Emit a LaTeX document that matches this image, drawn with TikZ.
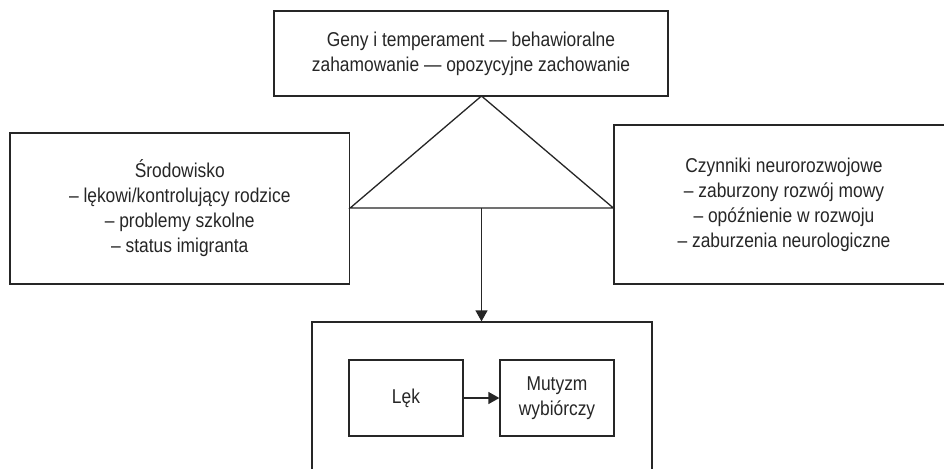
\documentclass[tikz,border=0pt]{standalone}
\usepackage{fontspec}
\setmainfont{Liberation Sans}[FakeStretch=0.87]
\usetikzlibrary{arrows.meta}
\definecolor{ink}{HTML}{262626}
\tikzset{
  box/.style={draw=ink, line width=1.3pt, align=center, inner sep=0pt, text=ink,
    font=\fontsize{20}{25}\selectfont},
  arr/.style={draw=ink, line width=1.3pt, -{Triangle[length=11pt,width=12pt]}},
  tri/.style={draw=ink, line width=1.3pt, line join=miter}
}
\begin{document}
\begin{tikzpicture}[x=1pt,y=-1pt]
\useasboundingbox (0,0) rectangle (944,468);
\clip (0,0) rectangle (944,468);
\fill[white] (0,0) rectangle (944,468);
\node[box, minimum width=394pt, minimum height=85pt] (top) at (471,53.5)
  {Geny i temperament — behawioralne\\zahamowanie — opozycyjne zachowanie};
\node[box, minimum width=339.5pt, minimum height=151pt] (left) at (179.75,208.5)
  {Środowisko\\– lękowi/kontrolujący rodzice\\– problemy szkolne\\– status imigranta};
\node[box, minimum width=340pt, minimum height=159pt] (right) at (784,204.5)
  {Czynniki neurorozwojowe\\– zaburzony rozwój mowy\\– opóźnienie w rozwoju\\– zaburzenia neurologiczne};
\node[box, minimum width=340pt, minimum height=152pt] (bot) at (482,398) {};
\node[box, minimum width=114pt, minimum height=76pt] (lek) at (406,398) {Lęk};
\node[box, minimum width=114pt, minimum height=76pt] (mut) at (557,398) {Mutyzm\\wybiórczy};
\coordinate (apex) at (481.5,96);
\coordinate (bl) at (left.east |- 0,208);
\coordinate (br) at (right.west |- 0,208);
\coordinate (bm) at (apex |- bl);
\draw[tri] (apex) -- (bl) -- (br) -- cycle;
\draw[arr] (bm) -- (bm |- bot.north);
\draw[arr] (lek) -- (mut);
\end{tikzpicture}
\end{document}
